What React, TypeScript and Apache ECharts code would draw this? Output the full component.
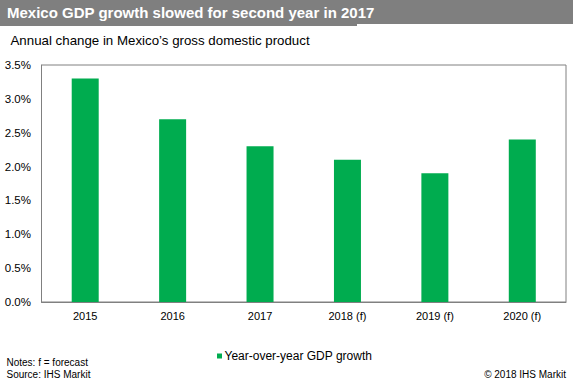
import React, { useEffect, useRef } from "react";
import * as echarts from "echarts";

const categories = ["2015", "2016", "2017", "2018 (f)", "2019 (f)", "2020 (f)"];
const gdpGrowth = [3.3, 2.7, 2.3, 2.1, 1.9, 2.4];
const seriesName = "Year-over-year GDP growth";
const titleText = "Mexico GDP growth slowed for second year in 2017";
const subtitleText = "Annual change in Mexico\u2019s gross domestic product";
const notesText = "Notes: f = forecast";
const sourceText = "Source: IHS Markit";
const copyrightText = "\u00a9 2018 IHS Markit";

const FONT = "'Liberation Sans', Arial, sans-serif";

export default function App() {
  const ref = useRef<HTMLDivElement>(null);
  useEffect(() => {
    document.body.style.margin = "0";
    const chart = echarts.init(ref.current!, null, { renderer: "svg" });
    chart.setOption({
      animation: false,
      backgroundColor: "#ffffff",
      textStyle: { fontFamily: FONT },
      graphic: [
        { type: "rect", left: 0, top: 0, shape: { width: 573, height: 24 }, style: { fill: "#7f7f7f" } },
        { type: "rect", left: 0, top: 0, shape: { width: 357, height: 26 }, style: { fill: "#7f7f7f" } },
        { type: "text", left: 7, top: 4.5, style: { text: titleText, fill: "#ffffff", font: `bold 15px ${FONT}` } },
        { type: "text", left: 10.5, top: 33.5, style: { text: subtitleText, fill: "#000000", font: `13.3px ${FONT}` } },
        { type: "text", left: 6.5, top: 357.5, style: { text: notesText, fill: "#000000", font: `10px ${FONT}` } },
        { type: "text", left: 6.5, top: 369, style: { text: sourceText, fill: "#000000", font: `10px ${FONT}` } },
        { type: "text", right: 7, top: 369, style: { text: copyrightText, fill: "#000000", font: `10px ${FONT}` } },
      ],
      legend: {
        show: true,
        left: 212,
        top: 345,
        icon: "rect",
        itemWidth: 5,
        itemHeight: 5,
        itemGap: 5,
        textStyle: { fontFamily: FONT, fontSize: 12, color: "#000000", padding: [0, 0, 0, -2.5] },
        data: [seriesName],
      },
      grid: {
        left: 41.5,
        right: 7,
        top: 65,
        bottom: 84,
        show: true,
        borderColor: "#808080",
        borderWidth: 1,
        containLabel: false,
      },
      xAxis: {
        type: "category",
        data: categories,
        axisLine: { show: true, lineStyle: { color: "#808080" } },
        axisTick: { show: false },
        axisLabel: { color: "#000000", fontFamily: FONT, fontSize: 11, margin: 8 },
      },
      yAxis: {
        type: "value",
        min: 0,
        max: 3.5,
        interval: 0.5,
        axisLine: { show: true, lineStyle: { color: "#808080" } },
        axisTick: { show: false },
        splitLine: { show: false },
        axisLabel: {
          color: "#000000",
          fontFamily: FONT,
          fontSize: 11.5,
          margin: 10.5,
          formatter: (v: number) => v.toFixed(1) + "%",
        },
      },
      series: [
        {
          name: seriesName,
          type: "bar",
          data: gdpGrowth,
          barWidth: 27,
          itemStyle: { color: "#00ac4f" },
        },
      ],
    });
    return () => chart.dispose();
  }, []);
  return <div ref={ref} style={{ width: 573, height: 386 }} />;
}
